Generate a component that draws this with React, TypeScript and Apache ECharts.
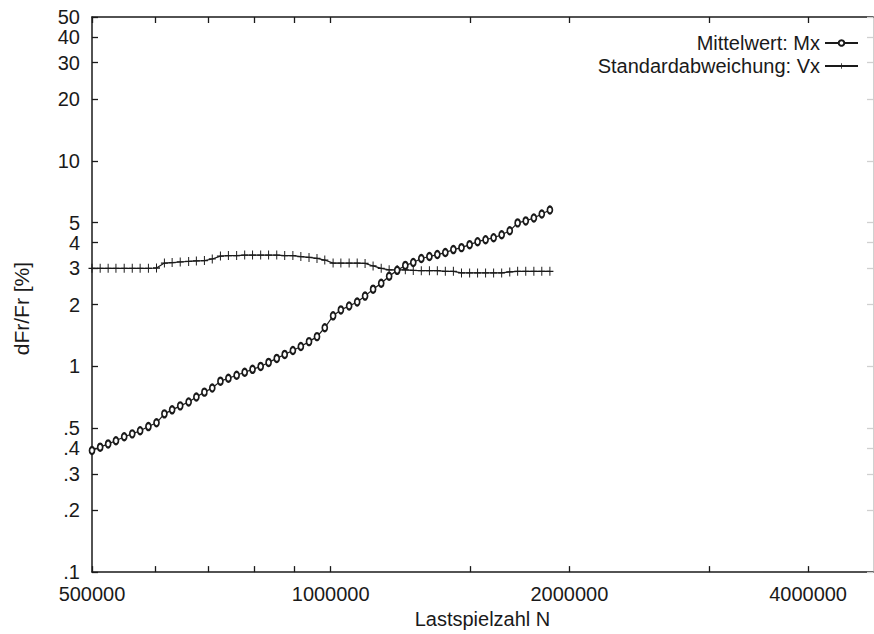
import React, { useEffect, useRef } from 'react';
import * as echarts from 'echarts';

// Load cycles N (x, log scale)
const cycles = [
  500000, 512000, 524000, 536000, 549000, 562000, 575000, 589000, 603000, 617000,
  631000, 646000, 662000, 677000, 693000, 709000, 726000, 743000, 761000, 779000,
  797000, 816000, 835000, 855000, 875000, 896000, 917000, 939000, 961000, 983000,
  1007000, 1030000, 1055000, 1080000, 1105000, 1131000, 1158000, 1185000, 1213000, 1242000,
  1271000, 1301000, 1332000, 1363000, 1395000, 1428000, 1462000, 1497000, 1532000, 1568000,
  1605000, 1643000, 1682000, 1721000, 1762000, 1804000, 1846000, 1890000,
];

// Mittelwert: Mx  (dFr/Fr in %)
const meanMx = [
  0.39, 0.405, 0.42, 0.435, 0.455, 0.47, 0.487, 0.51, 0.532, 0.588,
  0.615, 0.643, 0.672, 0.71, 0.75, 0.785, 0.848, 0.876, 0.906, 0.937,
  0.968, 1.0, 1.046, 1.094, 1.144, 1.195, 1.25, 1.32, 1.396, 1.542,
  1.762, 1.883, 1.968, 2.057, 2.198, 2.375, 2.538, 2.744, 2.932, 3.098,
  3.203, 3.348, 3.423, 3.499, 3.578, 3.699, 3.781, 3.909, 4.041, 4.132,
  4.225, 4.367, 4.565, 4.988, 5.1, 5.272, 5.511, 5.762,
];

// Standardabweichung: Vx
const stdVx = [
  3.0, 3.0, 3.0, 3.0, 3.0, 3.0, 3.0, 3.0, 3.01, 3.18,
  3.2, 3.22, 3.24, 3.26, 3.27, 3.33, 3.44, 3.46, 3.46, 3.48,
  3.48, 3.48, 3.48, 3.48, 3.46, 3.46, 3.42, 3.39, 3.35, 3.29,
  3.18, 3.18, 3.18, 3.18, 3.17, 3.08, 3.0, 2.95, 2.95, 2.95,
  2.93, 2.92, 2.92, 2.92, 2.9, 2.9, 2.85, 2.85, 2.85, 2.85,
  2.85, 2.85, 2.88, 2.9, 2.9, 2.9, 2.9, 2.9,
];

const seriesNames = ['Mittelwert: Mx', 'Standardabweichung: Vx'];
const xTickValues = [500000, 600000, 700000, 800000, 900000, 1000000, 1500000, 2000000, 3000000, 4000000];
const xLabelValues = [500000, 1000000, 2000000, 4000000];
const yTickValues = [0.1, 0.2, 0.3, 0.4, 0.5, 1, 2, 3, 4, 5, 10, 20, 30, 40, 50];

const FONT = '"Liberation Sans", Arial, sans-serif';
const INK = '#1a1a1a';
const PLUS = 'path://M4.3,0 H5.7 V10 H4.3 Z M0,4.3 H10 V5.7 H0 Z';

const fmtY = (v: number) => (v < 1 ? String(+v.toFixed(2)).replace(/^0/, '') : String(Math.round(v)));
const fmtX = (v: number) => String(Math.round(v));

export default function App() {
  const ref = useRef<HTMLDivElement>(null);
  useEffect(() => {
    if (!ref.current) return;
    const chart = echarts.init(ref.current, undefined, { renderer: 'svg' });

    const xBase = (pos: 'bottom' | 'top', faint = false) => ({
      type: 'log' as const,
      logBase: 10,
      min: 500000,
      max: 4830000,
      position: pos,
      axisLine: { show: true, lineStyle: { color: faint ? '#c8c8c8' : INK, width: 1.5 } },
      axisTick: { show: true, inside: true, length: 6, customValues: xTickValues, lineStyle: { color: faint ? '#c8c8c8' : INK, width: 1.3 } },
      splitLine: { show: false },
      minorTick: { show: false },
    });
    const yBase = (pos: 'left' | 'right', faint = false) => ({
      type: 'log' as const,
      logBase: 10,
      min: 0.1,
      max: 50.0001,
      position: pos,
      axisLine: { show: true, lineStyle: { color: faint ? '#d0d0d0' : INK, width: faint ? 1 : 1.5 } },
      axisTick: { show: true, inside: true, length: 6, customValues: yTickValues, lineStyle: { color: faint ? '#d0d0d0' : INK, width: 1.3 } },
      splitLine: { show: false },
      minorTick: { show: false },
    });

    chart.setOption({
      animation: false,
      backgroundColor: '#ffffff',
      grid: { left: 92, top: 17, right: 1, bottom: 56, containLabel: false },
      legend: {
        data: seriesNames,
        orient: 'vertical',
        right: 10,
        top: 28,
        align: 'right',
        itemWidth: 33,
        itemHeight: 7,
        itemGap: 3,
        textStyle: { fontFamily: FONT, fontSize: 20, color: INK, lineHeight: 20 },
      },
      xAxis: [
        {
          ...xBase('bottom'),
          name: 'Lastspielzahl N',
          nameLocation: 'middle',
          nameGap: 33,
          nameTextStyle: { fontFamily: FONT, fontSize: 20, color: INK },
          axisLabel: { show: true, customValues: xLabelValues, formatter: fmtX, fontFamily: FONT, fontSize: 20, color: INK, margin: 12 },
        },
        {
          ...xBase('top'),
          axisLabel: { show: false },
        },
      ],
      yAxis: [
        {
          ...yBase('left'),
          name: 'dFr/Fr [%]',
          nameLocation: 'middle',
          nameGap: 60,
          nameRotate: 90,
          nameTextStyle: { fontFamily: FONT, fontSize: 21, color: INK, padding: [0, 28, 0, 0] },
          axisLabel: { show: true, customValues: yTickValues, formatter: fmtY, fontFamily: FONT, fontSize: 20, lineHeight: 16, color: INK, margin: 12 },
        },
        {
          ...yBase('right', true),
          axisLabel: { show: false },
        },
      ],
      series: [
        {
          name: seriesNames[0],
          type: 'line',
          xAxisIndex: 0,
          yAxisIndex: 0,
          data: cycles.map((n, i) => [n, meanMx[i]]),
          symbol: 'emptyCircle',
          symbolSize: [5, 7],
          showAllSymbol: true,
          lineStyle: { color: INK, width: 1.2 },
          itemStyle: { color: INK, borderColor: INK, borderWidth: 1.1 },
          z: 3,
        },
        {
          name: seriesNames[1],
          type: 'line',
          xAxisIndex: 0,
          yAxisIndex: 0,
          data: cycles.map((n, i) => [n, stdVx[i]]),
          symbol: PLUS,
          symbolSize: [7, 9],
          showAllSymbol: true,
          lineStyle: { color: INK, width: 1.2 },
          itemStyle: { color: INK },
          z: 2,
        },
      ],
    });
    return () => chart.dispose();
  }, []);

  return (
    <div
      ref={ref}
      style={{ position: 'fixed', left: 0, top: 0, width: 874, height: 634, background: '#fff' }}
    />
  );
}
